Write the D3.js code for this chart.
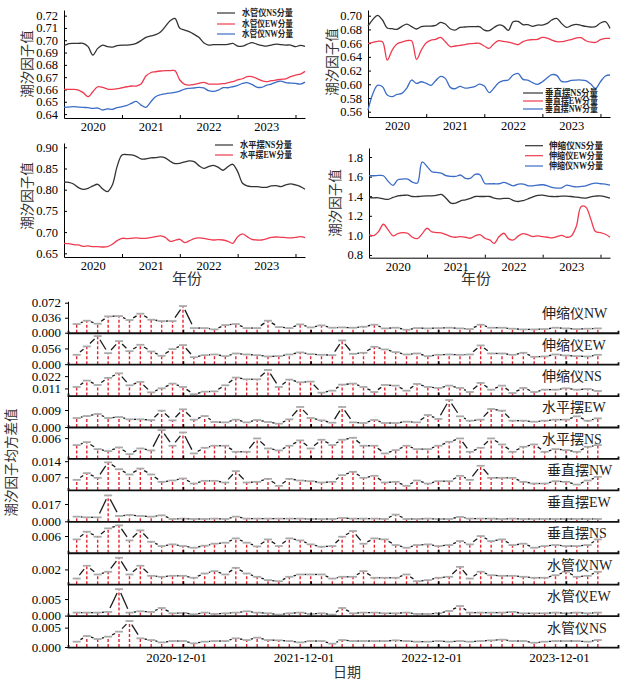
<!DOCTYPE html>
<html><head><meta charset="utf-8">
<script src="https://cdn.jsdelivr.net/npm/d3@7"></script>
<style>body{margin:0;background:#fff}svg{display:block}</style>
</head><body>
<svg id="c" width="633" height="683"></svg>
<script>
// ---------- top panels: monthly points 2020-01 .. 2024-03 ----------
const sgyNS=[0.6956,0.6972,0.6975,0.6975,0.6975,0.6948,0.6880,0.6934,0.6961,0.6948,0.6945,0.6956,0.6961,0.6961,0.6964,0.6975,0.6997,0.7024,0.7035,0.7045,0.7067,0.7111,0.7159,0.7178,0.7097,0.7083,0.7070,0.7048,0.7024,0.6980,0.6961,0.6964,0.6964,0.6964,0.6967,0.6975,0.6953,0.6953,0.6967,0.6980,0.6969,0.6959,0.6953,0.6961,0.6969,0.6964,0.6961,0.6961,0.6948,0.6959,0.6951];
const sgyEW=[0.6601,0.6601,0.6601,0.6595,0.6574,0.6541,0.6582,0.6622,0.6617,0.6603,0.6601,0.6606,0.6614,0.6622,0.6628,0.6628,0.6644,0.6709,0.6736,0.6744,0.6750,0.6753,0.6753,0.6753,0.6677,0.6641,0.6636,0.6641,0.6649,0.6658,0.6644,0.6644,0.6644,0.6647,0.6655,0.6663,0.6677,0.6687,0.6704,0.6704,0.6690,0.6671,0.6663,0.6671,0.6677,0.6682,0.6687,0.6704,0.6717,0.6725,0.6747];
const sgyNW=[0.6454,0.6457,0.6460,0.6457,0.6454,0.6452,0.6446,0.6449,0.6433,0.6443,0.6438,0.6452,0.6460,0.6470,0.6487,0.6503,0.6473,0.6454,0.6498,0.6541,0.6557,0.6565,0.6571,0.6576,0.6587,0.6603,0.6609,0.6612,0.6617,0.6612,0.6590,0.6584,0.6595,0.6614,0.6614,0.6622,0.6633,0.6649,0.6655,0.6641,0.6620,0.6617,0.6633,0.6644,0.6660,0.6668,0.6655,0.6652,0.6649,0.6644,0.6660];
const czbNS=[0.6849,0.6947,0.7005,0.6937,0.6820,0.6810,0.6801,0.6844,0.6878,0.6840,0.6806,0.6840,0.6849,0.6849,0.6859,0.6903,0.6878,0.6810,0.6791,0.6830,0.6835,0.6840,0.6840,0.6840,0.6791,0.6781,0.6825,0.6864,0.6849,0.6786,0.6912,0.6917,0.6869,0.6869,0.6844,0.6864,0.6864,0.6888,0.6937,0.6961,0.6888,0.6830,0.6854,0.6874,0.6859,0.6844,0.6835,0.6840,0.6893,0.6912,0.6815];
const czbEW=[0.6597,0.6611,0.6626,0.6621,0.6353,0.6499,0.6587,0.6616,0.6635,0.6635,0.6363,0.6499,0.6606,0.6645,0.6655,0.6684,0.6621,0.6548,0.6558,0.6567,0.6577,0.6592,0.6597,0.6597,0.6558,0.6524,0.6587,0.6635,0.6626,0.6616,0.6597,0.6577,0.6621,0.6645,0.6650,0.6655,0.6684,0.6674,0.6645,0.6621,0.6621,0.6635,0.6650,0.6674,0.6679,0.6635,0.6616,0.6611,0.6650,0.6669,0.6669];
const czbNW=[0.5624,0.5867,0.5984,0.5965,0.5843,0.5819,0.5853,0.5867,0.5945,0.6062,0.6013,0.6037,0.6013,0.5984,0.6052,0.6115,0.6086,0.5955,0.5935,0.5969,0.5945,0.5950,0.5965,0.6003,0.5974,0.5877,0.5940,0.6023,0.6052,0.6062,0.6135,0.6159,0.6071,0.6062,0.6023,0.5999,0.6037,0.6096,0.6140,0.6130,0.6042,0.6037,0.6057,0.6062,0.6062,0.6052,0.6003,0.5940,0.6037,0.6120,0.6135];
const spbNS=[0.8175,0.8175,0.8135,0.8049,0.8009,0.8033,0.8088,0.8127,0.8017,0.7954,0.8112,0.8544,0.8819,0.8827,0.8819,0.8788,0.8725,0.8725,0.8748,0.8756,0.8772,0.8748,0.8670,0.8615,0.8623,0.8654,0.8678,0.8662,0.8568,0.8505,0.8544,0.8575,0.8528,0.8458,0.8544,0.8599,0.8426,0.8151,0.8088,0.8072,0.8072,0.8057,0.8057,0.8088,0.8096,0.8072,0.8112,0.8135,0.8112,0.8072,0.8009];
const spbEW=[0.6736,0.6728,0.6704,0.6697,0.6665,0.6673,0.6657,0.6657,0.6649,0.6657,0.6712,0.6799,0.6854,0.6846,0.6854,0.6862,0.6854,0.6854,0.6870,0.6893,0.6909,0.6877,0.6783,0.6807,0.6830,0.6752,0.6791,0.6846,0.6862,0.6854,0.6830,0.6814,0.6822,0.6814,0.6783,0.6736,0.6893,0.6956,0.6893,0.6830,0.6814,0.6814,0.6838,0.6877,0.6885,0.6877,0.6870,0.6862,0.6877,0.6893,0.6870];
const ssyNS=[1.387,1.384,1.384,1.373,1.367,1.387,1.404,1.408,1.411,1.397,1.397,1.401,1.404,1.404,1.408,1.418,1.380,1.329,1.329,1.353,1.363,1.377,1.397,1.397,1.397,1.397,1.380,1.373,1.377,1.377,1.356,1.346,1.356,1.373,1.394,1.408,1.411,1.401,1.397,1.397,1.401,1.401,1.397,1.390,1.384,1.380,1.394,1.401,1.404,1.394,1.380];
const ssyEW=[1.005,0.998,1.039,1.114,1.056,0.995,1.018,1.029,1.022,0.981,0.967,1.015,1.073,1.035,1.029,1.025,1.008,0.988,0.981,0.988,0.981,0.971,0.995,1.008,0.971,0.954,0.919,0.988,1.022,0.964,0.954,0.995,1.018,1.005,0.988,0.995,0.988,0.981,0.974,0.988,1.001,0.981,0.995,1.090,1.295,1.288,1.165,1.039,1.029,1.012,0.981];
const ssyNW=[1.609,1.609,1.612,1.609,1.551,1.510,1.568,1.575,1.575,1.544,1.534,1.749,1.704,1.650,1.643,1.636,1.609,1.602,1.602,1.616,1.582,1.582,1.623,1.619,1.530,1.527,1.527,1.527,1.541,1.524,1.506,1.524,1.524,1.506,1.506,1.513,1.517,1.506,1.489,1.483,1.486,1.513,1.503,1.496,1.500,1.506,1.524,1.534,1.527,1.524,1.513];
const yearTicks=[2020,2021,2022,2023];

// ---------- bottom chart: monthly std values 2020-02 .. 2024-03 ----------
const stdNames=["伸缩仪NW","伸缩仪EW","伸缩仪NS","水平摆EW","水平摆NS","垂直摆NW","垂直摆EW","垂直摆NS","水管仪NW","水管仪EW","水管仪NS"];
const std_ssyNW=[0.0208,0.0288,0.0216,0.0392,0.0400,0.0304,0.0456,0.0312,0.0280,0.0280,0.0640,0.0112,0.0112,0.0080,0.0184,0.0208,0.0112,0.0112,0.0288,0.0136,0.0112,0.0200,0.0128,0.0176,0.0120,0.0128,0.0120,0.0144,0.0192,0.0104,0.0120,0.0072,0.0112,0.0104,0.0112,0.0120,0.0104,0.0088,0.0192,0.0120,0.0120,0.0096,0.0080,0.0080,0.0088,0.0120,0.0104,0.0088,0.0096,0.0104];
const std_ssyEW=[0.0333,0.0631,0.1000,0.0393,0.0821,0.0464,0.0690,0.0452,0.0298,0.0536,0.0679,0.0250,0.0321,0.0345,0.0286,0.0381,0.0345,0.0321,0.0274,0.0286,0.0345,0.0417,0.0357,0.0333,0.0321,0.0845,0.0369,0.0405,0.0619,0.0524,0.0429,0.0345,0.0381,0.0286,0.0333,0.0345,0.0333,0.0345,0.0667,0.0381,0.0381,0.0333,0.0405,0.0262,0.0274,0.0345,0.0310,0.0286,0.0274,0.0333];
const std_ssyNS=[0.0123,0.0180,0.0141,0.0204,0.0245,0.0138,0.0168,0.0075,0.0111,0.0153,0.0123,0.0058,0.0081,0.0084,0.0138,0.0207,0.0192,0.0192,0.0275,0.0123,0.0189,0.0165,0.0171,0.0072,0.0090,0.0144,0.0153,0.0123,0.0078,0.0141,0.0135,0.0090,0.0150,0.0123,0.0114,0.0135,0.0114,0.0078,0.0159,0.0099,0.0135,0.0069,0.0114,0.0078,0.0099,0.0099,0.0111,0.0099,0.0105,0.0087];
const std_spbEW=[0.00476,0.00582,0.00688,0.00476,0.00529,0.00406,0.00406,0.00371,0.00865,0.00353,0.00935,0.00388,0.00582,0.00265,0.00247,0.00388,0.00247,0.00371,0.00265,0.00176,0.00406,0.0106,0.00476,0.00353,0.00229,0.0106,0.00247,0.00212,0.00371,0.00212,0.00212,0.00282,0.00247,0.00635,0.00424,0.0143,0.00565,0.00335,0.00388,0.00953,0.00865,0.00335,0.00335,0.00282,0.00335,0.00388,0.00388,0.00565,0.00335,0.00459];
const std_spbNS=[0.00463,0.00522,0.00384,0.00345,0.00417,0.00285,0.00397,0.00358,0.00758,0.00450,0.00712,0.00299,0.00410,0.00450,0.00450,0.00331,0.00331,0.00594,0.00397,0.00358,0.00450,0.00555,0.00397,0.00568,0.00463,0.00568,0.00607,0.00450,0.00450,0.00299,0.00364,0.00450,0.00384,0.00384,0.00450,0.00528,0.00594,0.00331,0.00410,0.00594,0.00476,0.00331,0.00430,0.00476,0.00331,0.00384,0.00364,0.00331,0.00430,0.00463];
const std_czbNW=[0.00587,0.00879,0.00675,0.0135,0.0105,0.00821,0.0108,0.00821,0.0050,0.00558,0.00646,0.00427,0.00544,0.00544,0.00471,0.00967,0.00471,0.0050,0.00631,0.00325,0.00631,0.00558,0.00529,0.00471,0.0050,0.00792,0.00937,0.00675,0.00762,0.00471,0.0050,0.00325,0.00558,0.00427,0.00529,0.00529,0.00762,0.00587,0.0120,0.00675,0.00675,0.00675,0.0050,0.00427,0.00427,0.00529,0.0050,0.00383,0.00558,0.00719];
const std_czbEW=[0.00458,0.00393,0.00393,0.0255,0.00524,0.00622,0.00524,0.00458,0.00589,0.00229,0.00262,0.00229,0.00229,0.00262,0.00229,0.00458,0.00262,0.00262,0.00262,0.00262,0.00262,0.00262,0.00229,0.00229,0.00229,0.00327,0.00262,0.00262,0.00262,0.00229,0.00655,0.00229,0.00229,0.00262,0.00229,0.00229,0.00426,0.00262,0.00262,0.00262,0.00229,0.00262,0.00229,0.00229,0.00229,0.00229,0.00229,0.00229,0.00229,0.00229];
const std_czbNS=[0.00519,0.00703,0.00583,0.00783,0.00855,0.00495,0.00735,0.00463,0.0036,0.0040,0.0036,0.0032,0.00368,0.00416,0.0044,0.00543,0.0044,0.00352,0.00519,0.0036,0.00543,0.00495,0.0040,0.00344,0.0036,0.00583,0.00719,0.00416,0.00543,0.00519,0.00384,0.0032,0.00384,0.0040,0.0036,0.00384,0.00479,0.0040,0.00599,0.00479,0.00519,0.00384,0.00416,0.0032,0.0036,0.00384,0.0036,0.0036,0.00384,0.00519];
const std_sgyNW=[0.00126,0.0023,0.00159,0.00181,0.00295,0.00159,0.0023,0.00148,0.0014,0.00148,0.00148,0.00132,0.00167,0.00186,0.00159,0.00213,0.00167,0.0014,0.00113,0.00104,0.0014,0.00159,0.00159,0.00159,0.00126,0.0014,0.0014,0.00186,0.00132,0.00132,0.00132,0.00159,0.00104,0.00113,0.00132,0.0014,0.00221,0.00126,0.00181,0.00153,0.00148,0.00148,0.0014,0.00132,0.00132,0.00153,0.00181,0.0014,0.00148,0.00181];
const std_sgyEW=[0.0009,0.0009,0.0009,0.0011,0.0080,0.0009,0.0013,0.0011,0.0023,0.0007,0.0008,0.0004,0.0009,0.0005,0.0007,0.0009,0.0013,0.0009,0.0007,0.0003,0.0007,0.0009,0.0005,0.0007,0.0003,0.0023,0.0007,0.0009,0.0009,0.0007,0.0007,0.0009,0.0005,0.0005,0.0007,0.0014,0.0029,0.0009,0.0009,0.0009,0.0009,0.0011,0.0007,0.0007,0.0007,0.0009,0.0007,0.0009,0.0007,0.0009];
const std_sgyNS=[0.00138,0.00284,0.00206,0.00267,0.00396,0.0067,0.00224,0.0018,0.0012,0.00155,0.00155,0.00095,0.00138,0.00155,0.00155,0.00224,0.0018,0.00241,0.0018,0.00172,0.00155,0.0012,0.00155,0.00155,0.00086,0.0018,0.00155,0.00155,0.00155,0.00155,0.00172,0.00155,0.00138,0.00138,0.00155,0.00138,0.00155,0.00138,0.00155,0.00172,0.0019,0.00155,0.00155,0.0011,0.00138,0.00155,0.00155,0.00155,0.00138,0.0018];
const stdSeries=[std_ssyNW,std_ssyEW,std_ssyNS,std_spbEW,std_spbNS,std_czbNW,std_czbEW,std_czbNS,std_sgyNW,std_sgyEW,std_sgyNS];
const stdDomains=[[0,0.0754],[0,0.112],[0.0046,0.0327],[0,0.01662],[0.002,0.00819],[0.0015,0.0152],[0,0.0309],[0.002,0.00952],[0.0008,0.00336],[0,0.0095],[0,0.0081]];
const stdTicks=[[0,0.036,0.072],[0,0.056],[0.011,0.022],[0,0.009],[0.006],[0.007,0.014],[0,0.017],[0.006],[0.002],[0,0.005],[0,0.005]];
const dateTickLabels=["2020-12-01","2021-12-01","2022-12-01","2023-12-01"];

// ---------- drawing ----------
const svg=d3.select("#c");
const NUM="'Liberation Serif','Times New Roman',serif";
const CJK="'Noto Sans CJK SC','Noto Sans',sans-serif";
const MIX="'Liberation Serif','Noto Sans CJK SC',serif";
const C_BLACK="#333", C_RED="#ee3b4f", C_BLUE="#3b6cc6";

const topDates=d3.range(51).map(m=>new Date(2020,m,1));

function styleAxis(g,fs){
  g.selectAll("text").attr("font-family",NUM).attr("font-size",fs).attr("fill","#000");
  g.selectAll("line").attr("stroke","#000");
  g.select(".domain").attr("stroke","#000");
}

function topPanel(o){
  const g=svg.append("g");
  const x=d3.scaleTime().domain([new Date(2020,0,1),new Date(2024,2,1)]).range([o.left,o.right]);
  const y=d3.scaleLinear().domain(o.domain).range([o.bottom,o.top]);
  g.append("g").attr("transform",`translate(${o.left},0)`)
    .call(d3.axisLeft(y).tickValues(o.ticks).tickFormat(d3.format(o.fmt)).tickSizeInner(-3).tickSizeOuter(0).tickPadding(6))
    .call(a=>styleAxis(a,12.5));
  g.append("g").attr("transform",`translate(0,${o.bottom})`)
    .call(d3.axisBottom(x).tickValues(yearTicks.map(yv=>new Date(yv+1,0,1))).tickFormat("").tickSizeInner(-3).tickSizeOuter(0))
    .call(a=>styleAxis(a,12.5));
  g.append("g").attr("transform",`translate(0,${o.bottom})`)
    .call(d3.axisBottom(x).tickValues(yearTicks.map(yv=>new Date(yv,6,1))).tickFormat(d3.timeFormat("%Y")).tickSize(0).tickPadding(4))
    .call(a=>{a.select(".domain").remove();styleAxis(a,12.5);});
  const line=d3.line().x((d,i)=>x(topDates[i])).y(d=>y(d)).curve(d3.curveCatmullRom.alpha(0.5));
  o.series.forEach(s=>{
    g.append("path").attr("d",line(s.values)).attr("fill","none").attr("stroke",s.color).attr("stroke-width",1.3);
  });
  // legend
  o.series.forEach((s,i)=>{
    const ly=o.leg.y[i];
    g.append("line").attr("x1",o.leg.x1).attr("x2",o.leg.x2).attr("y1",ly).attr("y2",ly).attr("stroke",s.color).attr("stroke-width",1.2);
    g.append("text").attr("x",o.leg.tx).attr("y",ly).attr("dy","0.35em").text(s.name)
      .attr("font-family",MIX).attr("font-size",9.5).attr("font-weight","bold").attr("fill","#222")
      .attr("textLength",o.leg.w).attr("lengthAdjust","spacingAndGlyphs");
  });
  g.append("text").attr("transform",`translate(${o.tx},${o.ty}) rotate(-90)`).attr("text-anchor","middle").attr("dy","0.35em")
    .text("潮汐因子值").attr("font-family",CJK).attr("font-size",13.5).attr("fill","#333");
}

topPanel({left:64,right:305,top:10,bottom:118,domain:[0.6368,0.7246],ticks:d3.range(0.64,0.7201,0.01),fmt:".2f",
  series:[{values:sgyNS,color:C_BLACK,name:"水管仪NS分量"},{values:sgyEW,color:C_RED,name:"水管仪EW分量"},{values:sgyNW,color:C_BLUE,name:"水管仪NW分量"}],
  leg:{x1:217,x2:235,tx:242,w:51,y:[13,24,34]},tx:27,ty:64});
topPanel({left:368,right:610,top:10,bottom:117,domain:[0.5523,0.7083],ticks:d3.range(0.56,0.7001,0.02),fmt:".2f",
  series:[{values:czbNS,color:C_BLACK,name:"垂直摆NS分量"},{values:czbEW,color:C_RED,name:"垂直摆EW分量"},{values:czbNW,color:C_BLUE,name:"垂直摆NW分量"}],
  leg:{x1:523,x2:543,tx:545,w:53,y:[93,101,109]},tx:332,ty:62});
topPanel({left:64,right:305,top:143,bottom:257,domain:[0.6413,0.9101],ticks:d3.range(0.65,0.9001,0.05),fmt:".2f",
  series:[{values:spbNS,color:C_BLACK,name:"水平摆NS分量"},{values:spbEW,color:C_RED,name:"水平摆EW分量"}],
  leg:{x1:215,x2:233,tx:240,w:52,y:[145,155]},tx:27,ty:196});
topPanel({left:369,right:610,top:148,bottom:257.7,domain:[0.7724,1.892],ticks:d3.range(0.8,1.801,0.2),fmt:".1f",
  series:[{values:ssyNS,color:C_BLACK,name:"伸缩仪NS分量"},{values:ssyEW,color:C_RED,name:"伸缩仪EW分量"},{values:ssyNW,color:C_BLUE,name:"伸缩仪NW分量"}],
  leg:{x1:525,x2:543,tx:549,w:54,y:[145.7,155.7,166]},tx:335,ty:203});

svg.append("text").attr("x",187).attr("y",279).attr("dy","0.35em").attr("text-anchor","middle").text("年份").attr("font-family",CJK).attr("font-size",15).attr("fill","#333");
svg.append("text").attr("x",476).attr("y",279).attr("dy","0.35em").attr("text-anchor","middle").text("年份").attr("font-family",CJK).attr("font-size",15).attr("fill","#333");

// bottom stacked stem panels
const t1=new Date(2020,11,1), t2=new Date(2023,11,1);
const kx=(566-183)/(t2-t1);
const bx=d3.scaleTime().domain([new Date(+t1-(183-68)/kx),new Date(+t1+(618-183)/kx)]).range([68,618]);
const stemDates=d3.range(50).map(i=>new Date(2020,1+i,1));
const tickDates=dateTickLabels.map(s=>d3.timeParse("%Y-%m-%d")(s));
const pTop=301.3, pH=31.43;
stdSeries.forEach((vals,p)=>{
  const top=pTop+p*pH, bottom=top+pH;
  const y=d3.scaleLinear().domain(stdDomains[p]).range([bottom,top]);
  const g=svg.append("g");
  const pts=vals.map((v,i)=>[bx(stemDates[i]),y(v)]);
  // stems
  g.selectAll(".stem").data(pts).join("line").attr("x1",d=>d[0]).attr("x2",d=>d[0]).attr("y1",bottom).attr("y2",d=>d[1])
    .attr("stroke","#e6252e").attr("stroke-width",1.4).attr("stroke-dasharray","3,2");
  // connecting segments (shortened near points)
  for(let i=0;i<pts.length-1;i++){
    const [xa,ya]=pts[i],[xb,yb]=pts[i+1];
    const L=Math.hypot(xb-xa,yb-ya), s=4.3;
    if(L<=2*s+0.5) continue;
    const ux=(xb-xa)/L, uy=(yb-ya)/L;
    g.append("line").attr("x1",xa+ux*s).attr("y1",ya+uy*s).attr("x2",xb-ux*s).attr("y2",yb-uy*s)
      .attr("stroke","#1a1a1a").attr("stroke-width",1.3);
  }
  // caps
  g.selectAll(".cap").data(pts).join("line").attr("x1",d=>d[0]-4).attr("x2",d=>d[0]+4).attr("y1",d=>d[1]).attr("y2",d=>d[1])
    .attr("stroke","#a9a9a9").attr("stroke-width",1.8);
  // y axis
  g.append("g").attr("transform","translate(68,0)")
    .call(d3.axisLeft(y).tickValues(stdTicks[p]).tickFormat(d3.format(".3f")).tickSize(3).tickSizeOuter(0).tickPadding(4))
    .call(a=>styleAxis(a,13));
  // bottom line
  g.append("g").attr("transform",`translate(0,${bottom})`)
    .call(d3.axisBottom(bx).tickValues(tickDates).tickFormat("").tickSizeInner(-3).tickSizeOuter(-2))
    .call(a=>{styleAxis(a,13);a.select(".domain").attr("stroke-width",1.8).attr("stroke","#111");a.selectAll(".tick line").attr("stroke-width",1.5);});
  g.append("text").attr("x",p<5?542:547).attr("y",top+12).attr("dy","0.35em").text(stdNames[p])
    .attr("font-family",MIX).attr("font-size",14).attr("fill","#222");
  if(p===stdSeries.length-1){
    g.append("g").attr("transform",`translate(-7,${bottom})`)
      .call(d3.axisBottom(bx).tickValues(tickDates).tickFormat((d,i)=>dateTickLabels[i]).tickSize(0).tickPadding(6))
      .call(a=>{a.select(".domain").remove();styleAxis(a,13);});
  }
});
svg.append("text").attr("transform","translate(11,462.5) rotate(-90)").attr("text-anchor","middle").attr("dy","0.35em")
  .text("潮汐因子均方差值").attr("font-family",CJK).attr("font-size",13.5).attr("fill","#333");
svg.append("text").attr("x",347).attr("y",672).attr("dy","0.35em").attr("text-anchor","middle").text("日期")
  .attr("font-family",CJK).attr("font-size",14).attr("fill","#333");
</script>
</body></html>
